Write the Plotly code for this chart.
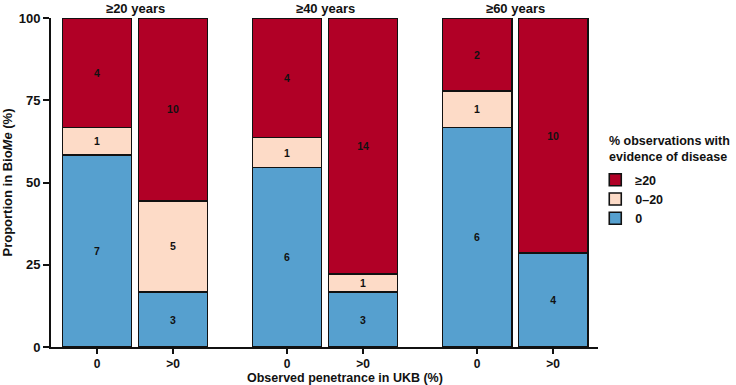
import plotly.graph_objects as go

# ---- data ----
age_groups = ["≥20 years", "≥40 years", "≥60 years"]
penetrance_groups = ["0", ">0"]
disease_levels = ["0", "0–20", "≥20"]
count_0 = [7, 3, 6, 3, 6, 4]
count_0_20 = [1, 5, 1, 1, 1, 0]
count_ge20 = [4, 10, 4, 14, 2, 10]

colors = {"0": "#56A0CF", "0–20": "#FDDBC7", "≥20": "#B10026"}
FONT = "Liberation Sans"
INK = "#111111"

series = {"0": count_0, "0–20": count_0_20, "≥20": count_ge20}
totals = [a + b + c for a, b, c in zip(count_0, count_0_20, count_ge20)]

xpos = []
ticktext = []
for fi, _ in enumerate(age_groups):
    for gi, g in enumerate(penetrance_groups):
        xpos.append(fi * 2.5 + gi)
        ticktext.append(g)

fig = go.Figure()
for lvl in disease_levels:
    cnt = series[lvl]
    fig.add_trace(go.Bar(
        x=xpos,
        y=[c / t * 100 for c, t in zip(cnt, totals)],
        text=[str(c) if c > 0 else "" for c in cnt],
        name=lvl,
        width=0.91,
        marker=dict(color=colors[lvl], line=dict(color=INK, width=1.6)),
        textposition="inside",
        insidetextanchor="middle",
        constraintext="none",
        textfont=dict(family=FONT, size=10.5, color=INK, weight="bold"),
        cliponaxis=False,
        hoverinfo="skip",
    ))

for fi, ag in enumerate(age_groups):
    fig.add_annotation(
        x=fi * 2.5 + 0.5, y=1, xref="x", yref="paper",
        yanchor="bottom", yshift=0, showarrow=False, text=ag,
        font=dict(family=FONT, size=13, color=INK, weight="bold"),
    )

fig.add_annotation(
    x=0.537, y=0, xref="paper", yref="paper", yanchor="top", yshift=-22,
    showarrow=False, text="Observed penetrance in UKB (%)",
    font=dict(family=FONT, size=12.5, color=INK, weight="bold"),
)

fig.add_annotation(
    x=1.0165, y=0.549, xref="paper", yref="paper", xanchor="left", yanchor="bottom",
    align="left", showarrow=False,
    text="% observations with<br>evidence of disease",
    font=dict(family=FONT, size=12.5, color=INK, weight="bold"),
)

fig.update_layout(
    width=736, height=385,
    margin=dict(l=51, r=138, t=18, b=38),
    barmode="stack",
    plot_bgcolor="white", paper_bgcolor="white",
    font=dict(family=FONT, color=INK),
    showlegend=True,
    legend=dict(
        x=0.995, y=0.553, xanchor="left", yanchor="top",
        traceorder="reversed",
        font=dict(family=FONT, size=12.5, color=INK, weight="bold"),
        itemwidth=30,
        tracegroupgap=0,
    ),
    xaxis=dict(
        range=[-0.605, 6.59],
        tickvals=xpos, ticktext=ticktext,
        showline=True, linecolor=INK, linewidth=2,
        ticks="outside", ticklen=5, tickwidth=2, tickcolor=INK,
        tickfont=dict(family=FONT, size=12, color=INK, weight="bold"),
        showgrid=False, zeroline=False, automargin=False,
    ),
    yaxis=dict(
        range=[0, 100],
        tickvals=[0, 25, 50, 75, 100],
        showline=True, linecolor=INK, linewidth=2,
        ticks="outside", ticklen=6, tickwidth=2, tickcolor=INK,
        tickfont=dict(family=FONT, size=13, color=INK, weight="bold"),
        showgrid=False, zeroline=False, automargin=False,
        title=dict(text="Proportion in Bio<i>Me</i> (%)", standoff=5,
                   font=dict(family=FONT, size=13, color=INK, weight="bold")),
    ),
)

fig.write_html("out.html", config={"displayModeBar": False},
               post_script="document.body.style.margin='0px';")
